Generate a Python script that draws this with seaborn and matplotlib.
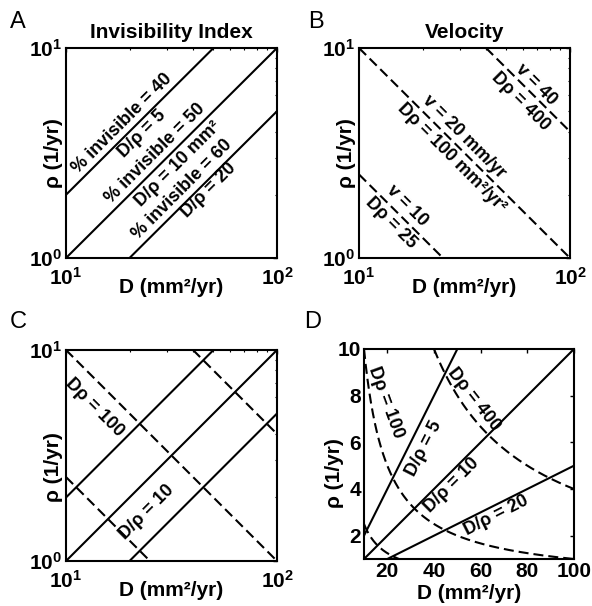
import numpy as np
import pandas as pd
import matplotlib
matplotlib.use("Agg")
import matplotlib.pyplot as plt
from matplotlib.ticker import NullFormatter, LogLocator
import seaborn as sns

################################################################################
# values

ratio_vals = [5, 10, 20]            # D/rho  (solid lines)
invisible_pct = [40, 50, 60]        # % invisible for each ratio
product_vals = [25, 100, 400]       # D*rho  (dashed lines)
velocity_vals = [10, 20, 40]        # v = 2*sqrt(D*rho)
D_lim = [10, 100]
rho_lim = [1, 10]
lin_xticks = [20, 40, 60, 80, 100]
lin_yticks = [2, 4, 6, 8, 10]

################################################################################

sns.set_style("white")
plt.rcParams['font.family'] = ['Liberation Sans', 'DejaVu Sans']
plt.rcParams['mathtext.fontset'] = 'custom'
plt.rcParams['mathtext.rm'] = 'Liberation Sans'
plt.rcParams['mathtext.bf'] = 'Liberation Sans:bold'
plt.rcParams['mathtext.default'] = 'bf'
plt.rcParams['text.color'] = 'k'
plt.rcParams['axes.labelcolor'] = 'k'
plt.rcParams['axes.linewidth'] = 1.5
plt.rcParams['axes.edgecolor'] = 'k'
for a in ['xtick', 'ytick']:
    plt.rcParams[a + '.direction'] = 'in'
    plt.rcParams[a + '.major.size'] = 3
    plt.rcParams[a + '.minor.size'] = 1.5
    plt.rcParams[a + '.major.width'] = 1.0
    plt.rcParams[a + '.minor.width'] = 0.8
    plt.rcParams[a + '.color'] = 'k'
    plt.rcParams[a + '.labelcolor'] = 'k'
plt.rcParams['xtick.top'] = True
plt.rcParams['ytick.right'] = True


def make_lines(ratios, products):
    frames = []
    for r in ratios:
        lo, hi = max(D_lim[0], r * rho_lim[0]), min(D_lim[1], r * rho_lim[1])
        d = np.geomspace(lo, hi, 300)
        frames.append(pd.DataFrame({'D': d, 'rho': d / r, 'kind': 'ratio', 'line': 'r%d' % r}))
    for p in products:
        lo, hi = max(D_lim[0], p / rho_lim[1]), min(D_lim[1], p / rho_lim[0])
        d = np.geomspace(lo, hi, 300)
        frames.append(pd.DataFrame({'D': d, 'rho': p / d, 'kind': 'product', 'line': 'p%d' % p}))
    return pd.concat(frames, ignore_index=True)


def draw(ax, df, log=True):
    sns.lineplot(data=df, x='D', y='rho', units='line', estimator=None, style='kind',
                 dashes={'ratio': '', 'product': (4.8, 2.4)}, color='k', lw=1.5,
                 legend=False, sort=False, ax=ax)
    ax.set_xlim(D_lim)
    ax.set_ylim(rho_lim)
    if log:
        ax.set_xscale('log')
        ax.set_yscale('log')
        ax.set_xticks(D_lim)
        ax.set_yticks(rho_lim)
        ax.set_xticklabels([r'$10^{1}$', r'$10^{2}$'])
        ax.set_yticklabels([r'$10^{0}$', r'$10^{1}$'])
        for axis in [ax.xaxis, ax.yaxis]:
            axis.set_minor_locator(LogLocator(subs=np.arange(2, 10)))
            axis.set_minor_formatter(NullFormatter())
        ax.tick_params(axis='x', pad=6.5)
        ax.tick_params(axis='y', pad=3)
    else:
        ax.set_xticks(lin_xticks)
        ax.set_yticks(lin_yticks)
        ax.set_xticklabels([str(v) for v in lin_xticks])
        ax.set_yticklabels([str(v) for v in lin_yticks])
        ax.tick_params(axis='both', pad=2)
    ax.tick_params(labelsize=15)
    for t in ax.get_xticklabels() + ax.get_yticklabels():
        t.set_fontweight('bold')
    ax.set_xlabel('D (mm²/yr)', fontsize=15, fontweight='bold')
    ax.set_ylabel('ρ (1/yr)', fontsize=15, fontweight='bold')
    for s in ax.spines.values():
        s.set_visible(True)


def lab(ax, x, y, s, rot):
    ax.text(x, y, s, rotation=rot, rotation_mode='anchor', ha='center', va='center',
            fontsize=13, fontweight='bold')


fig = plt.figure(figsize=(5.92, 6.06), dpi=100)
axA = fig.add_axes([66 / 592, 1 - 258 / 606, 211 / 592, 210 / 606])
axB = fig.add_axes([359 / 592, 1 - 258 / 606, 211 / 592, 210 / 606])
axC = fig.add_axes([66 / 592, 1 - 561 / 606, 211 / 592, 211 / 606])
axD = fig.add_axes([364 / 592, 1 - 559 / 606, 210 / 592, 210 / 606])

# A: invisibility index
draw(axA, make_lines(ratio_vals, []))
axA.set_title('Invisibility Index', fontsize=15, fontweight='bold', pad=7)
lab(axA, 18.4, 4.35, '%% invisible = %d' % invisible_pct[0], 45)
lab(axA, 22.9, 3.88, 'D/ρ = %d' % ratio_vals[0], 45)
lab(axA, 26.5, 3.13, '%% invisible = %d' % invisible_pct[1], 45)
lab(axA, 33.8, 2.81, 'D/ρ = %d mm²' % ratio_vals[1], 45)
lab(axA, 35.5, 2.11, '%% invisible = %d' % invisible_pct[2], 45)
lab(axA, 47.4, 2.09, 'D/ρ = %d' % ratio_vals[2], 45)

# B: velocity
draw(axB, make_lines([], product_vals))
axB.set_title('Velocity', fontsize=15, fontweight='bold', pad=7)
lab(axB, 68.7, 6.68, 'v = %d' % velocity_vals[2], -45)
lab(axB, 58.3, 5.57, 'Dρ = %d' % product_vals[2], -45)
lab(axB, 31.4, 3.76, 'v = %d mm/yr' % velocity_vals[1], -45)
lab(axB, 27.5, 2.99, 'Dρ = %d mm²/yr²' % product_vals[1], -45)
lab(axB, 16.9, 1.78, 'v = %d' % velocity_vals[0], -45)
lab(axB, 14.1, 1.47, 'Dρ = %d' % product_vals[0], -45)

# C: both families, log axes
draw(axC, make_lines(ratio_vals, product_vals))
lab(axC, 13.6, 5.33, 'Dρ = %d' % product_vals[1], -45)
lab(axC, 24.2, 1.70, 'D/ρ = %d' % ratio_vals[1], 45)

# D: both families, linear axes
draw(axD, make_lines(ratio_vals, product_vals), log=False)
lab(axD, 19.2, 7.71, 'Dρ = %d' % product_vals[1], -70)
lab(axD, 56.9, 7.86, 'Dρ = %d' % product_vals[2], -52)
lab(axD, 35.6, 5.74, 'D/ρ = %d' % ratio_vals[0], 63)
lab(axD, 47.7, 4.14, 'D/ρ = %d' % ratio_vals[1], 45)
lab(axD, 66.6, 2.86, 'D/ρ = %d' % ratio_vals[2], 27)

# label placement (MATLAB-like, tucked between tick labels)
for ax, yl in [(axA, 0.5), (axB, 0.5), (axC, 0.445)]:
    ax.xaxis.set_label_coords(0.5, -0.095)
    ax.yaxis.set_label_coords(-0.06, yl)
    ax.yaxis.label.set_va('center')
axD.xaxis.set_label_coords(0.5, -0.12)
axD.yaxis.set_label_coords(-0.14, 0.41)
axD.yaxis.label.set_va('center')

for s, x, y in [('A', 10, 11), ('B', 308, 11), ('C', 10, 311), ('D', 304, 311)]:
    fig.text(x / 592, 1 - y / 606, s, fontsize=17, ha='left', va='top')

fig.savefig('out.png', dpi=100)
